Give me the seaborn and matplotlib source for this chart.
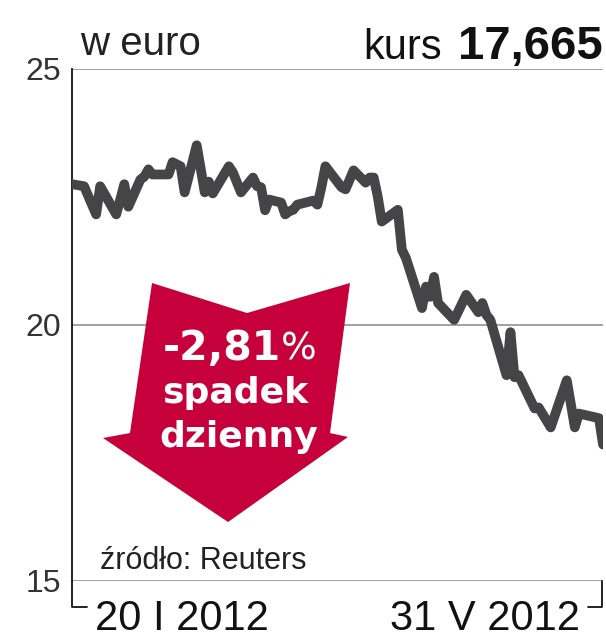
import numpy as np
import pandas as pd
import matplotlib
matplotlib.use("Agg")
import matplotlib.pyplot as plt
import seaborn as sns
from matplotlib import font_manager
from matplotlib.patches import Polygon

# trading-day offset from 20 I 2012, and closing price (EUR)
trading_day = [0, 1, 4, 5, 7, 9, 10, 11, 12, 13, 14, 16, 17, 19, 20, 21, 23, 24,
               25, 27, 28, 30, 31, 32, 33, 34, 35, 36, 37, 38, 39, 40, 42, 43, 44,
               45, 47, 48, 50, 51, 52, 53, 54, 55, 57, 58, 59, 61, 62, 63, 64, 65,
               67, 70, 71, 72, 73, 74, 76, 77, 78, 79, 81, 82, 85, 87, 89, 90, 93, 94]
price = [22.75, 22.71, 22.16, 22.71, 22.16, 22.75, 22.31, 22.84, 22.90, 23.04,
         22.94, 22.94, 23.18, 23.10, 22.59, 23.51, 22.59, 22.80, 22.57, 23.10,
         22.98, 22.59, 22.88, 22.71, 22.69, 22.24, 22.45, 22.39, 22.16, 22.22,
         22.25, 22.35, 22.43, 22.35, 22.69, 23.10, 22.69, 22.65, 23.02, 22.78,
         22.88, 22.88, 22.51, 22.02, 22.25, 21.47, 21.31, 20.33, 20.75, 20.55,
         20.94, 20.43, 20.10, 20.59, 20.25, 20.43, 20.20, 20.10, 19.02, 19.86,
         18.98, 19.02, 18.37, 18.39, 18.00, 18.92, 18.00, 18.27, 18.18, 17.665]
y_ticks = [15, 20, 25]
last_price = "17,665"
daily_change = "-2,81"
unit = "w euro"
source = "źródło: Reuters"

roman = {1: "I", 2: "II", 3: "III", 4: "IV", 5: "V", 6: "VI"}
dates = pd.bdate_range("2012-01-20", "2012-05-31")[trading_day]
df = pd.DataFrame({"data": dates, "kurs": price})

sns.set_theme(style="white")
names = {f.name for f in font_manager.fontManager.ttflist}
narrow = "Liberation Sans Narrow" if "Liberation Sans Narrow" in names else "Liberation Sans"
plt.rcParams["font.family"] = [narrow, "DejaVu Sans"]

fig = plt.figure(figsize=(6.06, 6.4), dpi=100)
ax = fig.add_axes([72 / 606, 1 - 581 / 640, 531 / 606, 512 / 640])

sns.lineplot(data=df, x="data", y="kurs", ax=ax, color="#454547", linewidth=7,
             solid_joinstyle="round", solid_capstyle="round", zorder=3)

ax.set_xlim(dates[0], dates[-1])
ax.set_ylim(15, 25)
ax.set_yticks(y_ticks)
ax.set_xticks([])
ax.set_xlabel("")
ax.set_ylabel("")
ax.tick_params(axis="y", length=0, pad=8, labelsize=23, labelcolor="#333333")
for s in ["top", "right", "bottom"]:
    ax.spines[s].set_visible(False)
ax.spines["left"].set_color("#111111")
ax.spines["left"].set_linewidth(1.3)
ax.yaxis.grid(True, color="#9a9a9a", lw=1.3)
ax.set_axisbelow(True)

# brackets under the time axis
ax.plot([0, 0, 0.028], [0, -0.051, -0.051], transform=ax.transAxes,
        clip_on=False, color="#111111", lw=1.3)
ax.plot([0.972, 0.998, 0.998], [-0.051, -0.051, 0], transform=ax.transAxes,
        clip_on=False, color="#111111", lw=1.3)

# red arrow
arrow = Polygon([(0.1507, 0.582), (0.3296, 0.5234), (0.5235, 0.582), (0.4859, 0.289),
                 (0.5198, 0.2813), (0.2938, 0.1152), (0.0584, 0.2793), (0.1092, 0.289)],
                closed=True, transform=ax.transAxes, fc="#c6003a", ec="none", zorder=2)
ax.add_patch(arrow)

fig.text(281 / 606, 1 - 360 / 640, daily_change, ha="right", va="baseline",
         color="white", fontsize=29.5, fontweight="bold", family="DejaVu Sans")
fig.text(281 / 606, 1 - 360 / 640, "%", ha="left", va="baseline",
         color="white", fontsize=27, family="DejaVu Sans")
fig.text(235 / 606, 1 - 403 / 640, "spadek", ha="center", va="baseline",
         color="white", fontsize=26, fontweight="bold", family="DejaVu Sans")
fig.text(239 / 606, 1 - 447 / 640, "dzienny", ha="center", va="baseline",
         color="white", fontsize=26, fontweight="bold", family="DejaVu Sans")

# headers
fig.text(80 / 606, 1 - 55 / 640, unit, ha="left", va="baseline",
         fontsize=29, color="#222222")
fig.text(442 / 606, 1 - 59 / 640, "kurs", ha="right", va="baseline",
         fontsize=30, color="#111111")
fig.text(603 / 606, 1 - 59 / 640, last_price, ha="right", va="baseline",
         fontsize=34, fontweight="bold", color="#111111")

# source and date labels
ax.text(0.0527, 0.0234, source, transform=ax.transAxes, ha="left", va="baseline",
        fontsize=22, color="#222222")
d0, d1 = dates[0], dates[-1]
ax.text(0.0433, -0.096, f"{d0.day} {roman[d0.month]} {d0.year}", transform=ax.transAxes,
        ha="left", va="baseline", fontsize=30, color="#111111")
ax.text(0.957, -0.096, f"{d1.day} {roman[d1.month]} {d1.year}", transform=ax.transAxes,
        ha="right", va="baseline", fontsize=30, color="#111111")

fig.savefig("out.png", dpi=100)
